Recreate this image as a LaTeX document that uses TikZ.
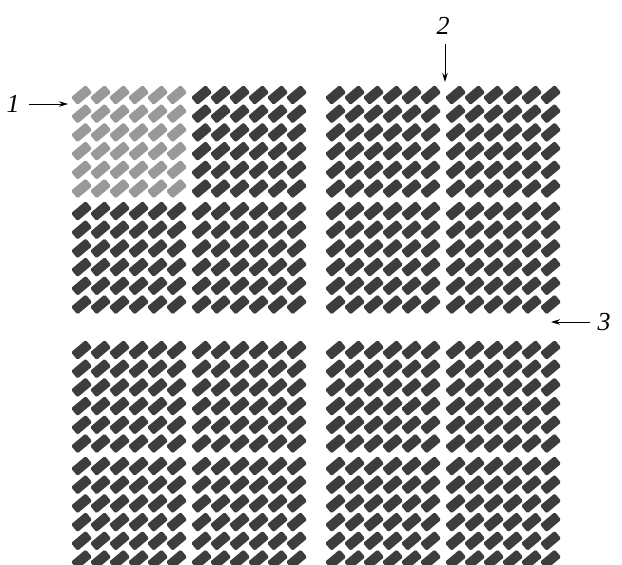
\documentclass[tikz,border=0pt]{standalone}
\usepackage{fontspec}
\setmainfont{Liberation Serif}
\usetikzlibrary{arrows.meta}
\definecolor{lightcell}{HTML}{999999}
\definecolor{darkcell}{HTML}{3D3D3D}
\tikzset{
  cell/.style={rounded corners=1.5pt},
  lbl/.style={font=\fontsize{26}{26}\selectfont\itshape, inner sep=0pt},
  pointer/.style={line width=0.9pt, -{Stealth[length=9pt,width=5.5pt]}}
}
\begin{document}
\begin{tikzpicture}[x=1pt,y=-1pt]
\useasboundingbox (0,0) rectangle (622,565);
\clip (0,0) rectangle (622,565);
\foreach \bx in {72,192,326,446}{
  \foreach \by in {86,202,341,457}{
    \pgfmathsetmacro{\isfirst}{(\bx==72 && \by==86) ? 1 : 0}
    \ifdim\isfirst pt>0.5pt \def\cc{lightcell}\else\def\cc{darkcell}\fi
    \foreach \i in {0,...,5}{
      \foreach \j in {0,...,5}{
        \fill[\cc, cell, shift={(\bx+9.6+19*\i,\by+9+18.7*\j)}, rotate=40]
          (-9.6,-5.0) rectangle (9.6,5.0);
      }
    }
  }
}
\node[lbl] (n1) at (13,104) {1};
\coordinate (t1) at (68,104);
\draw[pointer] (n1.east) ++(9,0) -- (t1);
\node[lbl] (n2) at (443,26) {2};
\coordinate (t2) at (445,82);
\draw[pointer] (445,44) -- (t2);
\node[lbl] (n3) at (604,322) {3};
\coordinate (t3) at (551,322);
\draw[pointer] (n3.west) ++(-7,0) -- (t3);
\end{tikzpicture}
\end{document}
